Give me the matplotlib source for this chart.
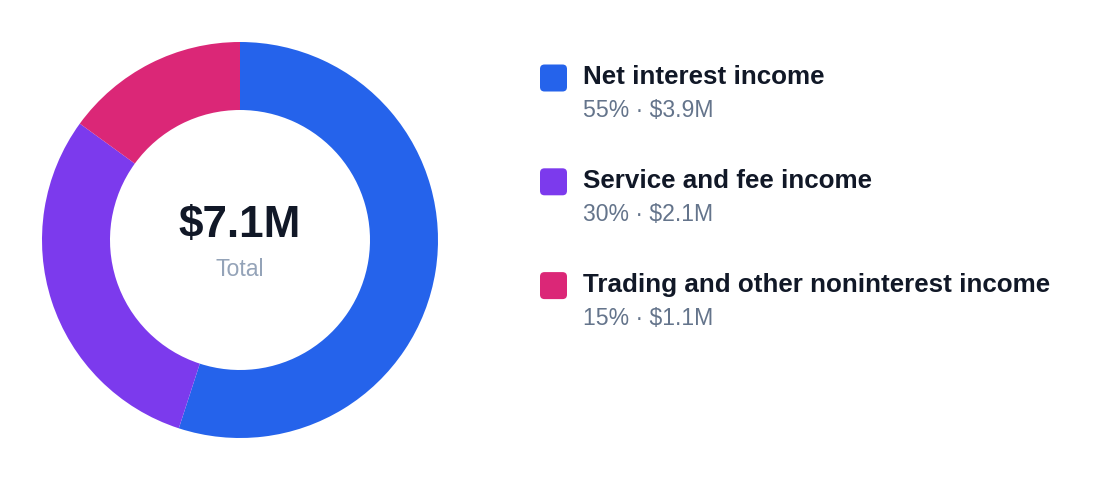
import matplotlib
matplotlib.use("Agg")
import matplotlib.pyplot as plt
from matplotlib.patches import FancyBboxPatch

categories = ["Net interest income", "Service and fee income", "Trading and other noninterest income"]
shares = [55, 30, 15]
amounts = ["$3.9M", "$2.1M", "$1.1M"]
colors = ["#2563EB", "#7C3AED", "#DB2777"]
total_label = "$7.1M"

W, H = 1120, 480
plt.rcParams['font.family'] = ['Liberation Sans', 'DejaVu Sans']
fig = plt.figure(figsize=(W / 100, H / 100), dpi=100)

# donut axes (pixel geometry)
cx, cy, R = 240, 240, 198
ax = fig.add_axes([(cx - R) / W, (H - cy - R) / H, 2 * R / W, 2 * R / H])
ax.pie(shares, colors=colors, startangle=90, counterclock=False, radius=1,
       wedgeprops=dict(width=1 - 130 / 198, linewidth=0))
ax.set_xlim(-1, 1)
ax.set_ylim(-1, 1)
ax.axis('off')

# overlay axes in pixel coords
ov = fig.add_axes([0, 0, 1, 1])
ov.set_xlim(0, W)
ov.set_ylim(H, 0)
ov.axis('off')

ov.text(cx, 236.5, total_label, ha='center', va='baseline', fontsize=44 * 0.72,
        fontweight='bold', color='#111827')
ov.text(cx, 276, "Total", ha='center', va='baseline', fontsize=23 * 0.72,
        color='#94A3B8')

row0 = 78
step = 103.8
for i, (cat, sh, amt, col) in enumerate(zip(categories, shares, amounts, colors)):
    yc = row0 + i * step
    sq = FancyBboxPatch((540, yc - 13.5), 27, 27,
                        boxstyle="round,pad=0,rounding_size=4.5",
                        facecolor=col, edgecolor='none')
    ov.add_patch(sq)
    ov.text(583, yc + 6.5, cat, ha='left', va='baseline', fontsize=26 * 0.72,
            fontweight='bold', color='#111827')
    ov.text(583, yc + 39, f"{sh}% \u00b7 {amt}", ha='left', va='baseline',
            fontsize=23 * 0.72, color='#64748B')

fig.savefig("out.png", dpi=100, facecolor='white')
